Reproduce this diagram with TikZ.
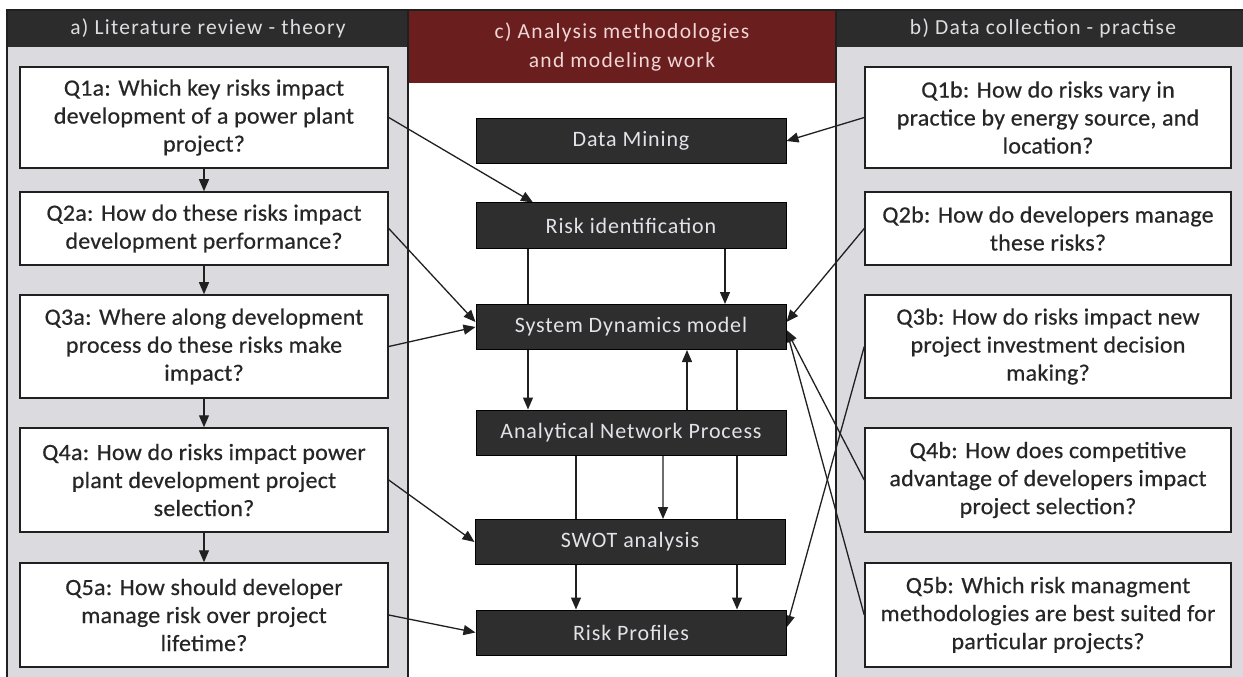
\documentclass[tikz,border=0pt]{standalone}
\usepackage{fontspec}
\setmainfont{Carlito}
\newfontfamily\qfont[LetterSpace=1,FakeStretch=1.03,FakeBold=0.5]{Carlito}
\newfontfamily\mfont[LetterSpace=4]{Carlito}
\newfontfamily\hfont[LetterSpace=6]{Carlito}
\usetikzlibrary{arrows.meta}

\definecolor{panelgray}{RGB}{218,218,223}
\definecolor{hdrdark}{RGB}{44,44,44}
\definecolor{hdrred}{RGB}{106,30,30}
\definecolor{boxdark}{RGB}{46,46,46}
\definecolor{boxtext}{RGB}{226,226,232}
\definecolor{hdrtext}{RGB}{222,222,226}
\definecolor{linedark}{RGB}{32,32,32}

\pgfdeclarelayer{panels}
\pgfdeclarelayer{edges}
\pgfsetlayers{panels,edges,main}

\tikzset{
  qbox/.style={draw=linedark, line width=1.5bp, fill=white, align=center,
    text=black!85, inner sep=0pt,
    font=\qfont\fontsize{23.3bp}{28bp}\selectfont},
  lbox/.style={qbox, minimum width=368bp},
  rbox/.style={qbox, minimum width=366bp},
  mbox/.style={draw=black, line width=1bp, fill=boxdark, text=boxtext,
    minimum width=310bp, minimum height=45bp, inner sep=0pt,
    font=\mfont\fontsize{22bp}{26bp}\selectfont},
  hdr/.style={text=hdrtext, inner sep=0pt, align=center,
    font=\hfont\fontsize{21.5bp}{29bp}\selectfont},
  arr/.style={draw=linedark, line width=1.3bp, -{Triangle[length=12bp,width=10bp]}},
  rim/.style={draw=linedark, line width=2bp}
}

\begin{document}
\begin{tikzpicture}[x=1bp, y=-1bp]
\useasboundingbox (0,0) rectangle (1243,677);

% column backgrounds and headings
\begin{pgfonlayer}{panels}
  \fill[panelgray] (7,10) rectangle (408,680);
  \fill[white] (408,10) rectangle (836,680);
  \fill[panelgray] (836,10) rectangle (1246,680);
  \fill[hdrdark] (7,10) rectangle (408,47);
  \fill[hdrred] (408,10) rectangle (836,83);
  \fill[hdrdark] (836,10) rectangle (1246,47);
  \draw[rim] (7,680) -- (7,10) -- (1246,10);
  \draw[rim] (408,10) -- (408,680);
  \draw[rim] (836,10) -- (836,680);
\end{pgfonlayer}

\node[hdr] (ha) at (208,28.5) {a) Literature review - theory};
\node[hdr, text={rgb,255:red,240;green,214;blue,214}] (hc) at (622,47) {c) Analysis methodologies\\and modeling work};
\node[hdr] (hb) at (1043,28.5) {b) Data collection - practise};

% literature review questions
\node[lbox, minimum height=101bp] (q1a) at (204,117.5) {Q1a: Which key risks impact\\development of a power plant\\project?};
\node[lbox, minimum height=73bp]  (q2a) at (204,228.5) {Q2a: How do these risks impact\\development performance?};
\node[lbox, minimum height=103bp] (q3a) at (204,346.5) {Q3a: Where along development\\process do these risks make\\impact?};
\node[lbox, minimum height=104bp] (q4a) at (204,480) {Q4a: How do risks impact power\\plant development project\\selection?};
\node[lbox, minimum height=104bp] (q5a) at (204,615) {Q5a: How should developer\\manage risk over project\\lifetime?};

% data collection questions
\node[rbox, minimum height=101bp] (q1b) at (1048,117.5) {Q1b: How do risks vary in\\practice by energy source, and\\location?};
\node[rbox, minimum height=73bp]  (q2b) at (1048,228.5) {Q2b: How do developers manage\\these risks?};
\node[rbox, minimum height=103bp] (q3b) at (1048,346.5) {Q3b: How do risks impact new\\project investment decision\\making?};
\node[rbox, minimum height=104bp] (q4b) at (1048,480) {Q4b: How does competitive\\advantage of developers impact\\project selection?};
\node[rbox, minimum height=104bp] (q5b) at (1048,615) {Q5b: Which risk managment\\methodologies are best suited for\\particular projects?};

% analysis methods
\node[mbox] (dm)   at (631,141)   {Data Mining};
\node[mbox] (rid)  at (631,225.5) {Risk identification};
\node[mbox] (sd)   at (631,327)   {System Dynamics model};
\node[mbox] (anp)  at (631,432.5) {Analytical Network Process};
\node[mbox] (swot) at (630,542)   {SWOT analysis};
\node[mbox] (rp)   at (631,632.5) {Risk Profiles};

\begin{pgfonlayer}{edges}
  % question chain on the theory side
  \draw[arr] (q1a) -- (q2a);
  \draw[arr] (q2a) -- (q3a);
  \draw[arr] (q3a) -- (q4a);
  \draw[arr] (q4a) -- (q5a);

  % theory questions feeding the methods
  \draw[arr] (q1a.east) -- ([xshift=-98bp]rid.north);
  \draw[arr] (q2a.east) -- ([yshift=5bp]sd.west);
  \draw[arr] (q3a.east) -- (sd.west);
  \draw[arr] (q4a.east) -- (swot.west);
  \draw[arr] (q5a.east) -- (rp.west);

  % practice questions feeding the methods
  \draw[arr] (q1b.west) -- (dm.east);
  \draw[arr] (q2b.west) -- ([yshift=5bp]sd.east);
  \draw[arr] (q3b.west) -- ([yshift=5bp]rp.east);
  \draw[arr] (q4b.west) -- ([yshift=-3bp]sd.east);
  \draw[arr] (q5b.west) -- ([yshift=-3bp]sd.east);

  % links between the methods
  \draw[arr] ([xshift=94bp]rid.south) -- ([xshift=94bp]sd.north);
  \draw[arr] ([xshift=-103bp]rid.south) -- ([xshift=-103bp]anp.north);
  \draw[arr] ([xshift=56bp]anp.north) -- ([xshift=56bp]sd.south);
  \draw[arr] ([xshift=106bp]sd.south) -- ([xshift=106bp]rp.north);
  \draw[arr] ([xshift=-55bp]anp.south) -- ([xshift=-55bp]rp.north);
  \draw[arr] ([xshift=32bp]anp.south) -- ([xshift=33bp]swot.north);
\end{pgfonlayer}
\end{tikzpicture}
\end{document}
